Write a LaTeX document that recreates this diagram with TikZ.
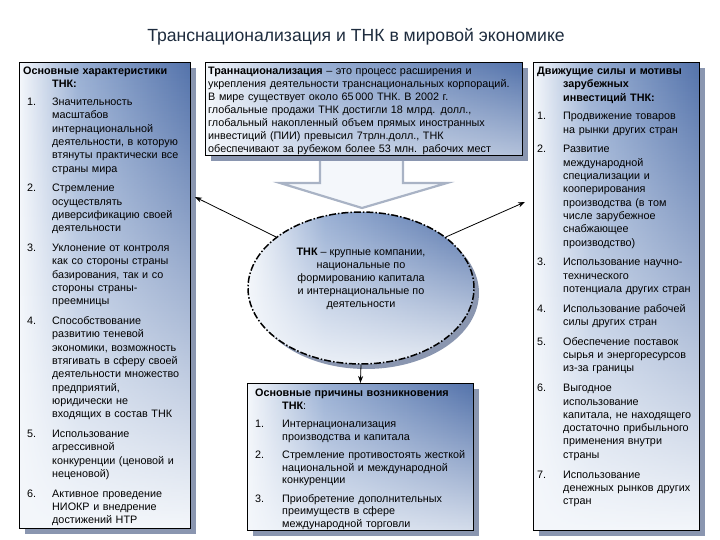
\documentclass[tikz,border=0pt]{standalone}
\usepackage{fontspec}
\setmainfont{Liberation Sans}
\usetikzlibrary{arrows.meta,shapes.geometric,shadows,fadings}
\definecolor{bdark}{HTML}{5473AB}
\definecolor{bmid}{HTML}{9AB0D4}
\definecolor{blight}{HTML}{F4F7FB}
\definecolor{shadowc}{HTML}{8A96B0}
\definecolor{titlec}{HTML}{1E2C3E}
\definecolor{arrowedge}{HTML}{A9B3C5}
\pgfdeclarehorizontalshading{hshade}{100bp}{color(0bp)=(blight); color(25bp)=(blight); color(42bp)=(bmid); color(75bp)=(bdark); color(100bp)=(bdark)}
\newlength{\igap}
\newcommand{\li}[3]{\par\vskip\igap\hangindent=#1\hangafter=1\noindent\makebox[#1][l]{#2}#3}
\tikzset{
  gradfill/.style={path picture={
      \shade[shading=hshade] (path picture bounding box.south west) rectangle (path picture bounding box.north east);
      \fill[blight, fill opacity=#1, path fading=north] (path picture bounding box.south west) rectangle (path picture bounding box.north east);}},
  panel/.style={draw=black, line width=0.8pt, fill=blight, anchor=north west, inner sep=0pt,
    gradfill=#1,
    drop shadow={shadow xshift=6pt, shadow yshift=-6pt, fill=shadowc, opacity=1}},
  oval/.style={ellipse, draw=black, line width=1.5pt, dash pattern=on 7pt off 2pt on 1.5pt off 2pt,
    fill=blight, inner sep=0pt, minimum width=226pt, minimum height=152pt, gradfill=0.9,
    drop shadow={shadow xshift=5pt, shadow yshift=-5pt, fill=shadowc, opacity=1}},
  txt/.style={anchor=north west, inner sep=0pt, align=left, font=\fontsize{10.8}{13.3}\selectfont},
  ctxt/.style={anchor=north, inner sep=0pt, align=center, font=\fontsize{10.8}{13}\selectfont},
  titlestyle/.style={inner sep=0pt, text=titlec, font=\fontsize{17.6}{20}\selectfont},
  blockarrow/.style={fill=blight, draw=arrowedge, line width=2.2pt, line join=miter},
  conn/.style={draw=black, line width=0.8pt, -{Stealth[length=7pt,width=5pt]}},
}
\begin{document}
\begin{tikzpicture}[x=1pt,y=-1pt]
\useasboundingbox (0,0) rectangle (720,540);
\node[titlestyle] (T) at (356,37) {Транснационализация и ТНК в мировой экономике};

\draw[blockarrow] (320,150) -- (403,150) -- (403,183) -- (447,183) -- (362,208) -- (280,183) -- (320,183) -- cycle;

\node[panel=1, minimum width=171pt, minimum height=466pt] (L) at (19,62) {};
\node[panel=0.6, minimum width=317pt, minimum height=93pt] (M) at (205,62) {};
\node[panel=1, minimum width=166pt, minimum height=468pt] (R) at (533,62) {};
\node[panel=0.8, minimum width=226pt, minimum height=147pt] (B) at (247,383) {};
\node[oval] (E) at (361,288) {};

\coordinate (la) at (195,197);
\coordinate (ra) at (525,202);
\draw[conn] (E.149) -- (la);
\draw[conn] (E.31) -- (ra);
\draw[conn] (E.south) -- (B.north);

% left box text
\node[txt, text width=166pt] (Lt) at (23,61) {\parskip=0pt\igap=6.5pt
\par\hangindent=29pt\hangafter=1\noindent\textbf{Основные характеристики\newline ТНК:}\vspace{-2pt}
\li{29pt}{\hspace*{4pt}1.}{Значительность\newline масштабов\newline интернациональной\newline деятельности, в которую\newline втянуты практически все\newline страны мира}
\li{29pt}{\hspace*{4pt}2.}{Стремление\newline осуществлять\newline диверсификацию своей\newline деятельности}
\li{29pt}{\hspace*{4pt}3.}{Уклонение от контроля\newline как со стороны страны\newline базирования, так и со\newline стороны страны-\newline преемницы}
\li{29pt}{\hspace*{4pt}4.}{Способствование\newline развитию теневой\newline экономики, возможность\newline втягивать в сферу своей\newline деятельности множество\newline предприятий,\newline юридически не\newline входящих в состав ТНК}
\li{29pt}{\hspace*{4pt}5.}{Использование\newline агрессивной\newline конкуренции (ценовой и\newline неценовой)}
\li{29pt}{\hspace*{4pt}6.}{Активное проведение\newline НИОКР и внедрение\newline достижений НТР}\par};

% middle top text
\node[txt, text width=314pt, font=\fontsize{10.8}{12.9}\selectfont] (Mt) at (208,67) {\noindent\textbf{Траннационализация} – это процесс расширения и\newline укрепления деятельности транснациональных корпораций.\newline В мире существует около 65\,000 ТНК. В 2002 г.\newline глобальные продажи ТНК достигли 18 млрд. долл.,\newline глобальный накопленный объем прямых иностранных\newline инвестиций (ПИИ) превысил 7трлн.долл., ТНК\newline обеспечивают за рубежом более 53 млн. рабочих мест\par};

% ellipse text
\node[ctxt] (Et) at (361,248) {\textbf{ТНК} – крупные компании,\\национальные по\\формированию капитала\\и интернациональные по\\деятельности};

% bottom box text
\node[txt, text width=218pt, font=\fontsize{10.8}{12.5}\selectfont] (Bt) at (255,384) {\parskip=0pt\igap=6pt
\par\hangindent=27pt\hangafter=1\noindent\textbf{Основные причины возникновения}\newline\textbf{ТНК}:
\li{27pt}{1.}{Интернационализация\newline производства и капитала}
\li{27pt}{2.}{Стремление противостоять жесткой\newline национальной и международной\newline конкуренции}
\li{27pt}{3.}{Приобретение дополнительных\newline преимуществ в сфере\newline международной торговли}\par};

% right box text
\node[txt, text width=162pt] (Rt) at (537,61) {\parskip=0pt\igap=6.5pt
\par\hangindent=26pt\hangafter=1\noindent\textbf{Движущие силы и мотивы\newline зарубежных\newline инвестиций ТНК:}\vspace{-1pt}
\li{26pt}{1.}{Продвижение товаров\newline на рынки других стран}
\li{26pt}{2.}{Развитие\newline международной\newline специализации и\newline кооперирования\newline производства (в том\newline числе зарубежное\newline снабжающее\newline производство)}
\li{26pt}{3.}{Использование научно-\newline технического\newline потенциала других стран}
\li{26pt}{4.}{Использование рабочей\newline силы других стран}
\li{26pt}{5.}{Обеспечение поставок\newline сырья и энергоресурсов\newline из-за границы}
\li{26pt}{6.}{Выгодное\newline использование\newline капитала, не находящего\newline достаточно прибыльного\newline применения внутри\newline страны}
\li{26pt}{7.}{Использование\newline денежных рынков других\newline стран}\par};
\end{tikzpicture}
\end{document}
